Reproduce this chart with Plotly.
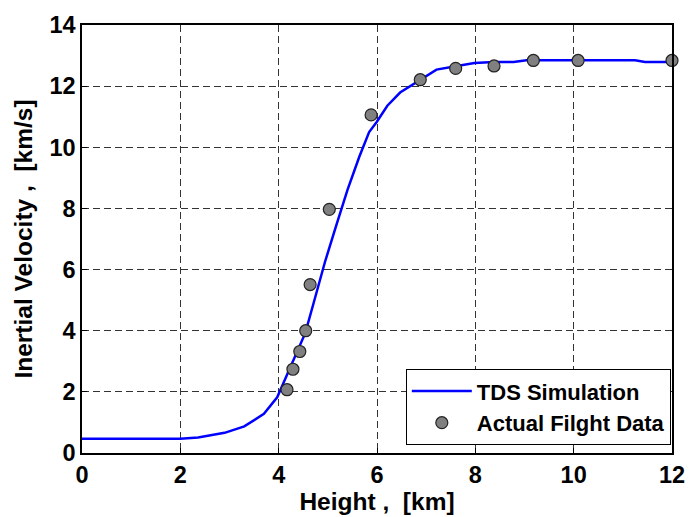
import plotly.graph_objects as go

# TDS simulation curve
sim_x = [0, 2.0, 2.36, 2.9, 3.3, 3.7, 3.97, 4.1, 4.23, 4.4, 4.54, 4.7, 4.94, 5.17, 5.4,
         5.64, 5.84, 5.99, 6.21, 6.47, 6.88, 7.21, 7.6, 7.98, 8.38, 8.78, 9.04, 10.09,
         11.25, 11.45, 12.0]
sim_y = [0.47, 0.47, 0.51, 0.66, 0.87, 1.28, 1.82, 2.31, 2.79, 3.44, 3.92, 4.84, 6.24, 7.44, 8.61,
         9.69, 10.5, 10.82, 11.36, 11.79, 12.21, 12.54, 12.65, 12.76, 12.79, 12.79, 12.85, 12.85,
         12.85, 12.79, 12.79]

# Actual flight data
flight_x = [4.17, 4.29, 4.43, 4.55, 4.64, 5.03, 5.88, 6.88, 7.60, 8.38, 9.18, 10.09, 12.0]
flight_y = [2.07, 2.74, 3.32, 4.0, 5.51, 7.97, 11.06, 12.21, 12.58, 12.66, 12.84, 12.84, 12.84]

x_ticks = [0, 2, 4, 6, 8, 10, 12]
y_ticks = [0, 2, 4, 6, 8, 10, 12, 14]

FONT = "Liberation Sans, Arial, sans-serif"

fig = go.Figure()
fig.add_trace(go.Scatter(
    x=sim_x, y=sim_y, mode="lines", name="<b>TDS Simulation</b>",
    line=dict(color="#0000FF", width=2.5),
))
fig.add_trace(go.Scatter(
    x=flight_x, y=flight_y, mode="markers", name="<b>Actual Filght Data</b>",
    marker=dict(color="#808080", size=12, line=dict(color="#222222", width=1.2)),
    cliponaxis=False,
))

axis_common = dict(
    showgrid=True, gridcolor="#333333", gridwidth=1, griddash="7px,4px",
    showline=True, linecolor="black", linewidth=1.5, mirror=True,
    ticks="inside", ticklen=5, tickcolor="black",
    zeroline=False,
    tickfont=dict(family=FONT, size=23.5, color="black"),
)

fig.update_xaxes(
    range=[0, 12], tickvals=x_ticks, ticktext=[f"<b>{v}</b>" for v in x_ticks],
    title=dict(text="<b>Height ,\u00a0 [km]</b>", font=dict(family=FONT, size=24.5, color="black"), standoff=0),
    **axis_common,
)
fig.update_yaxes(
    range=[0, 14], tickvals=y_ticks, ticktext=[f"<b>{v}</b>" for v in y_ticks],
    title=dict(text="<b>Inertial Velocity ,\u00a0 [km/s]</b>", font=dict(family=FONT, size=24.5, color="black"), standoff=10),
    **axis_common,
)

fig.update_layout(
    width=697, height=517,
    margin=dict(l=82, r=16, t=20, b=64),
    paper_bgcolor="white", plot_bgcolor="white",
    font=dict(family=FONT, color="black"),
    showlegend=True,
    legend=dict(
        x=0.998, y=0.018, xanchor="right", yanchor="bottom",
        bgcolor="white", bordercolor="black", borderwidth=1,
        font=dict(family=FONT, size=22, color="black"),
        itemwidth=60, tracegroupgap=0,
    ),
)

fig.write_html("out.html")
